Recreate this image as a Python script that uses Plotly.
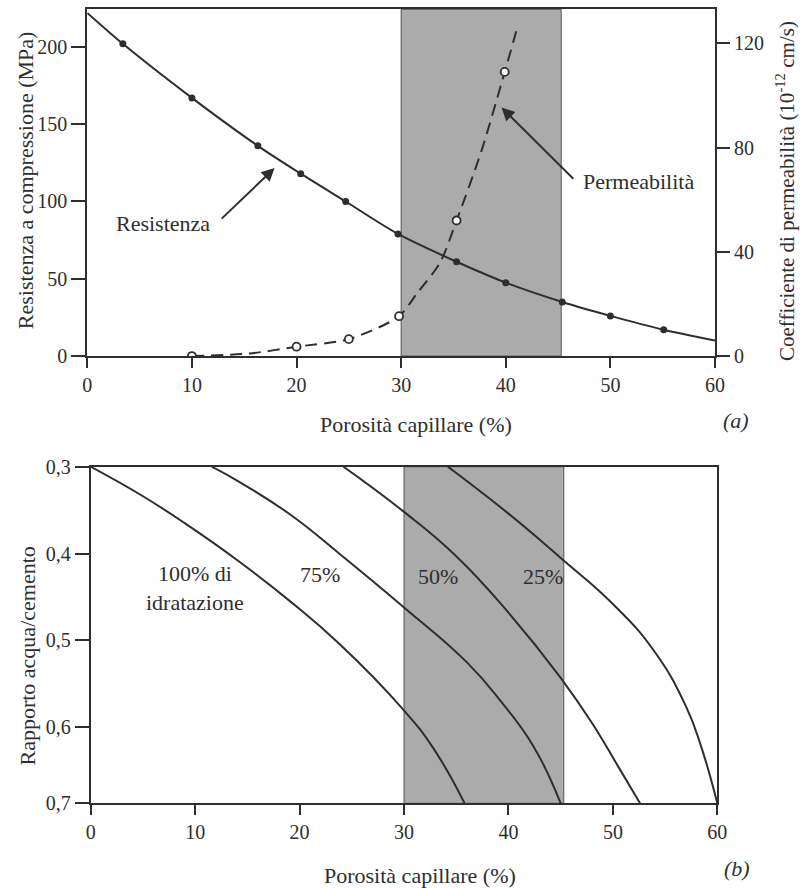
import plotly.graph_objects as go

# ---------------- data: panel (a) ----------------
porosity_ticks = [0, 10, 20, 30, 40, 50, 60]
strength_ticks = [0, 50, 100, 150, 200]
perm_ticks = [0, 40, 80, 120]

# compressive strength (MPa) - measured points
res_x = [3.4, 10.0, 16.3, 20.4, 24.7, 29.7, 35.3, 40.0, 45.4, 50.0, 55.1]
res_y = [202, 167, 136, 118, 100, 79, 61, 47.5, 35, 26, 17]
# strength curve as drawn
res_line_x = [0, 3.4, 10.0, 16.3, 20.4, 24.7, 29.7, 35.3, 40.0, 45.4, 50.0, 55.1, 60]
res_line_y = [222, 202, 167, 136, 118, 100, 79, 61, 47.5, 35, 26, 17, 10]

# permeability coefficient (1e-12 cm/s) - measured points
perm_x = [10, 20, 25, 29.8, 35.3, 39.9]
perm_y = [0, 3.6, 6.5, 15.3, 52, 109]
# permeability curve as drawn
perm_line_x = [10, 15.5, 20, 25, 29.8, 31.5, 33.7, 35.3, 37.7, 39.9, 41.1]
perm_line_y = [0, 1.0, 3.6, 6.5, 15.3, 24, 35.7, 52, 79, 109, 126]

# ---------------- data: panel (b) ----------------
wc_ticks = [0.3, 0.4, 0.5, 0.6, 0.6875]
wc_ticktext = ["0,3", "0,4", "0,5", "0,6", "0,7"]

h100_x = [0, 5, 9, 14.3, 19.1, 23.9, 29.8, 32.8, 35.8]
h100_y = [0.300, 0.334, 0.365, 0.410, 0.455, 0.505, 0.578, 0.624, 0.6875]
h75_x = [11.6, 14.3, 19.1, 23.9, 30, 36, 39.2, 42.4, 45.0]
h75_y = [0.300, 0.318, 0.355, 0.401, 0.462, 0.525, 0.569, 0.622, 0.6875]
h50_x = [24.2, 30, 35, 40, 45, 48, 50.5, 52.6]
h50_y = [0.300, 0.352, 0.403, 0.468, 0.543, 0.595, 0.645, 0.6875]
h25_x = [34.2, 40, 45, 50, 54, 57, 58.5, 60.0]
h25_y = [0.300, 0.354, 0.405, 0.458, 0.513, 0.576, 0.624, 0.6875]

band = [30, 45.3]

FONT = "Liberation Serif"
INK = "#2e2e2e"
GREY = "#ababab"

fig = go.Figure()

# panel (a)
fig.add_trace(go.Scatter(x=res_line_x, y=res_line_y, mode="lines",
                         line=dict(color=INK, width=2, shape="spline", smoothing=0.8),
                         xaxis="x", yaxis="y", showlegend=False, hoverinfo="skip"))
fig.add_trace(go.Scatter(x=res_x, y=res_y, mode="markers",
                         marker=dict(color=INK, size=7),
                         xaxis="x", yaxis="y", showlegend=False, name="Resistenza"))
fig.add_trace(go.Scatter(x=perm_line_x, y=perm_line_y, mode="lines",
                         line=dict(color=INK, width=2, dash="12px,7px", shape="spline", smoothing=0.8),
                         xaxis="x", yaxis="y2", showlegend=False, hoverinfo="skip"))
fig.add_trace(go.Scatter(x=perm_x, y=perm_y, mode="markers",
                         marker=dict(color="white", size=8, line=dict(color=INK, width=1.8)),
                         xaxis="x", yaxis="y2", showlegend=False, name="Permeabilità"))

# panel (b)
for xs, ys, nm in [(h100_x, h100_y, "100%"), (h75_x, h75_y, "75%"),
                   (h50_x, h50_y, "50%"), (h25_x, h25_y, "25%")]:
    fig.add_trace(go.Scatter(x=xs, y=ys, mode="lines", name=nm,
                             line=dict(color=INK, width=2, shape="spline", smoothing=1.3),
                             xaxis="x2", yaxis="y3", showlegend=False))

# shaded bands
fig.add_shape(type="rect", xref="x", yref="y domain", x0=band[0], x1=band[1], y0=0, y1=1,
              fillcolor=GREY, line=dict(color="#555", width=1), layer="below")
fig.add_shape(type="rect", xref="x2", yref="y3 domain", x0=band[0], x1=band[1], y0=0, y1=1,
              fillcolor=GREY, line=dict(color="#555", width=1), layer="below")

axis_common = dict(showline=True, linecolor=INK, linewidth=2, mirror=True, ticks="outside",
                   tickcolor=INK, tickwidth=1.5, showgrid=False, zeroline=False, automargin=False,
                   tickfont=dict(family=FONT, size=20, color=INK))

fig.update_layout(
    width=803, height=888,
    margin=dict(l=0, r=0, t=0, b=0, autoexpand=False),
    paper_bgcolor="white", plot_bgcolor="white",
    font=dict(family=FONT, size=22, color=INK),
    xaxis=dict(domain=[0.1087, 0.8904], range=[0, 60], tickvals=porosity_ticks, ticklen=10,
               anchor="y", **axis_common),
    yaxis=dict(domain=[0.599, 0.9895], range=[0, 224.3], tickvals=strength_ticks, ticklen=14,
               anchor="x", **axis_common),
    yaxis2=dict(overlaying="y", side="right", anchor="x", range=[0, 133], tickvals=perm_ticks,
                ticklen=13, showline=True, linecolor=INK, linewidth=2, ticks="outside",
                tickcolor=INK, tickwidth=1.5, showgrid=False, zeroline=False, automargin=False,
                tickfont=dict(family=FONT, size=20, color=INK)),
    xaxis2=dict(domain=[0.1130, 0.8933], range=[0, 60], tickvals=porosity_ticks, ticklen=10,
                anchor="y3", **axis_common),
    yaxis3=dict(domain=[0.0954, 0.4744], range=[0.6875, 0.3], tickvals=wc_ticks,
                ticktext=wc_ticktext, ticklen=14, anchor="x2", **axis_common),
)

C = dict(xanchor="center", yanchor="middle", showarrow=False, font=dict(family=FONT, size=22, color=INK))
ann = []
# axis titles
ann.append(dict(text="Porosità capillare (%)", x=0.518, y=0.5214, xref="paper", yref="paper", **C))
ann.append(dict(text="Porosità capillare (%)", x=0.523, y=0.0146, xref="paper", yref="paper", **C))
ann.append(dict(text="Resistenza a compressione (MPa)", x=0.031, y=0.797, xref="paper",
                yref="paper", textangle=-90, **C))
ann.append(dict(text="Coefficiente di permeabilità (10<sup>-12</sup> cm/s)", x=0.979, y=0.785,
                xref="paper", yref="paper", textangle=-90, xanchor="center", yanchor="middle",
                showarrow=False, font=dict(family=FONT, size=21, color=INK)))
ann.append(dict(text="Rapporto acqua/cemento", x=0.034, y=0.261, xref="paper", yref="paper",
                textangle=-90, **C))
# panel letters
ann.append(dict(text="<i>(a)</i>", x=0.916, y=0.527, xref="paper", yref="paper", **C))
ann.append(dict(text="<i>(b)</i>", x=0.918, y=0.0225, xref="paper", yref="paper", **C))
# curve labels panel (a)
ann.append(dict(text="Resistenza", x=7.24, y=86, xref="x", yref="y", **C))
ann.append(dict(text="", x=17.9, y=121.6, ax=12.7, ay=88, xref="x", yref="y", axref="x",
                ayref="y", showarrow=True, arrowhead=2, arrowsize=1.3, arrowwidth=2,
                arrowcolor=INK))
ann.append(dict(text="Permeabilità", x=52.7, y=112.7, xref="x", yref="y", **C))
ann.append(dict(text="", x=39.6, y=160.8, ax=46.6, ay=113.8, xref="x", yref="y", axref="x",
                ayref="y", showarrow=True, arrowhead=2, arrowsize=1.3, arrowwidth=2,
                arrowcolor=INK))
# curve labels panel (b)
ann.append(dict(text="100% di<br>idratazione", x=9.99, y=0.4396, xref="x2", yref="y3", **C))
ann.append(dict(text="75%", x=21.96, y=0.4246, xref="x2", yref="y3", **C))
ann.append(dict(text="50%", x=33.3, y=0.4266, xref="x2", yref="y3", **C))
ann.append(dict(text="25%", x=43.35, y=0.4266, xref="x2", yref="y3", **C))
fig.update_layout(annotations=ann)

fig.write_html("out.html")
